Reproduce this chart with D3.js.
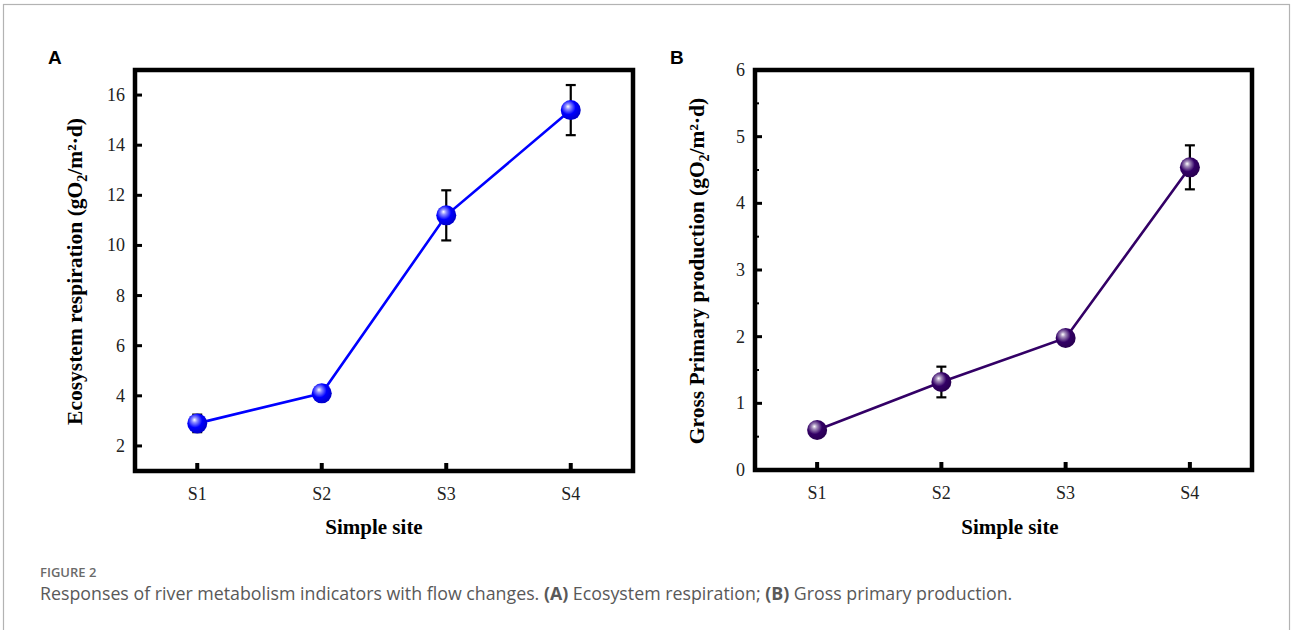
<!DOCTYPE html>
<html>
<head>
<meta charset="utf-8">
<script src="https://cdn.jsdelivr.net/npm/d3@7"></script>
<style>
  body { margin: 0; background: #fff; }
  svg { display: block; }
</style>
</head>
<body>
<svg id="fig" width="1293" height="630"></svg>
<script>
// site labels shared by both panels
var sites = ["S1", "S2", "S3", "S4"];

// panel A: ecosystem respiration
var erMean = [2.9, 4.1, 11.2, 15.4];
var erErr  = [0.35, 0.3, 1.0, 1.0];
var erTicks = [2, 4, 6, 8, 10, 12, 14, 16];

// panel B: gross primary production
var gppMean = [0.6, 1.32, 1.98, 4.54];
var gppErr  = [0.1, 0.23, 0.08, 0.33];
var gppTicks = [0, 1, 2, 3, 4, 5, 6];
var gppMinor = [0.5, 1.5, 2.5, 3.5, 4.5, 5.5];

var svg = d3.select("#fig");
var defs = svg.append("defs");

// outer figure frame
svg.append("rect")
    .attr("x", 3.5).attr("y", 4.5)
    .attr("width", 1286).attr("height", 700)
    .attr("fill", "none")
    .attr("stroke", "#b3b3b3")
    .attr("stroke-width", 1.2);

function ballGradient(id, color){
    var g = defs.append("radialGradient")
        .attr("id", id)
        .attr("cx", "40%").attr("cy", "38%")
        .attr("fx", "36%").attr("fy", "32%")
        .attr("r", "60%");
    g.append("stop").attr("offset", "0%").attr("stop-color", "#ffffff");
    g.append("stop").attr("offset", "22%").attr("stop-color", d3.interpolateRgb("#ffffff", color)(0.45));
    g.append("stop").attr("offset", "60%").attr("stop-color", color);
    g.append("stop").attr("offset", "100%").attr("stop-color", d3.color(color).darker(0.6));
}

/**
 * Draws one panel
 */
function drawPanel(opt){
    var g = svg.append("g");
    var x = d3.scaleLinear().domain([0.5, 4.5]).range([opt.left, opt.right]);
    var y = d3.scaleLinear().domain(opt.domain).range([opt.bottom, opt.top]);

    // panel letter
    g.append("text")
        .attr("x", opt.letterX).attr("y", 64)
        .attr("font-family", "Liberation Sans, Arial, sans-serif")
        .attr("font-weight", "bold")
        .attr("font-size", 19)
        .text(opt.letter);

    // y ticks (inward)
    g.selectAll(".ytick").data(opt.ticks).enter().append("line")
        .attr("x1", opt.left).attr("x2", opt.left + 7)
        .attr("y1", function(d){ return y(d); })
        .attr("y2", function(d){ return y(d); })
        .attr("stroke", "#000").attr("stroke-width", 3);

    g.selectAll(".yminor").data(opt.minor).enter().append("line")
        .attr("x1", opt.left).attr("x2", opt.left + 4)
        .attr("y1", function(d){ return y(d); })
        .attr("y2", function(d){ return y(d); })
        .attr("stroke", "#000").attr("stroke-width", 2);

    g.selectAll(".ylab").data(opt.ticks).enter().append("text")
        .attr("x", opt.left - 10)
        .attr("y", function(d){ return y(d) + 6; })
        .attr("text-anchor", "end")
        .attr("font-family", "Liberation Serif, Times New Roman, serif")
        .attr("font-size", 18)
        .attr("fill", "#222")
        .text(function(d){ return d; });

    // x ticks (inward)
    g.selectAll(".xtick").data(sites).enter().append("line")
        .attr("x1", function(d, i){ return x(i + 1); })
        .attr("x2", function(d, i){ return x(i + 1); })
        .attr("y1", opt.bottom).attr("y2", opt.bottom - 8)
        .attr("stroke", "#000").attr("stroke-width", 4);

    g.selectAll(".xlab").data(sites).enter().append("text")
        .attr("x", function(d, i){ return x(i + 1); })
        .attr("y", opt.bottom + 29)
        .attr("text-anchor", "middle")
        .attr("font-family", "Liberation Serif, Times New Roman, serif")
        .attr("font-size", 18)
        .attr("fill", "#222")
        .text(function(d){ return d; });

    // frame
    g.append("rect")
        .attr("x", opt.left).attr("y", opt.top)
        .attr("width", opt.right - opt.left)
        .attr("height", opt.bottom - opt.top)
        .attr("fill", "none")
        .attr("stroke", "#000").attr("stroke-width", 4.5);

    // axis titles
    g.append("text")
        .attr("x", opt.xtitleX)
        .attr("y", 534)
        .attr("text-anchor", "middle")
        .attr("font-family", "Liberation Serif, Times New Roman, serif")
        .attr("font-weight", "bold")
        .attr("font-size", 21)
        .text("Simple site");

    var yt = g.append("text")
        .attr("transform", "translate(" + opt.titleX + "," + ((opt.top + opt.bottom) / 2 + 1) + ") rotate(-90)")
        .attr("text-anchor", "middle")
        .attr("font-family", "Liberation Serif, Times New Roman, serif")
        .attr("font-weight", "bold")
        .attr("font-size", 21.5);
    yt.append("tspan").text(opt.title + " (gO");
    yt.append("tspan").attr("font-size", 14).attr("dy", 5).text("2");
    yt.append("tspan").attr("dy", -5).text("/m\u00B2\u00B7d)");

    // connecting line
    var line = d3.line()
        .x(function(d, i){ return x(i + 1); })
        .y(function(d){ return y(d); });
    g.append("path")
        .datum(opt.mean)
        .attr("d", line)
        .attr("fill", "none")
        .attr("stroke", opt.color)
        .attr("stroke-width", 2.6);

    // error bars
    var eb = g.selectAll(".err").data(opt.mean).enter().append("g");
    eb.append("line")
        .attr("x1", function(d, i){ return x(i + 1); })
        .attr("x2", function(d, i){ return x(i + 1); })
        .attr("y1", function(d, i){ return y(d - opt.err[i]); })
        .attr("y2", function(d, i){ return y(d + opt.err[i]); })
        .attr("stroke", "#000").attr("stroke-width", 2.2);
    [-1, 1].forEach(function(s){
        eb.append("line")
            .attr("x1", function(d, i){ return x(i + 1) - 5; })
            .attr("x2", function(d, i){ return x(i + 1) + 5; })
            .attr("y1", function(d, i){ return y(d + s * opt.err[i]); })
            .attr("y2", function(d, i){ return y(d + s * opt.err[i]); })
            .attr("stroke", "#000").attr("stroke-width", 2.2);
    });

    // ball markers
    ballGradient(opt.gid, opt.color);
    g.selectAll(".pt").data(opt.mean).enter().append("circle")
        .attr("cx", function(d, i){ return x(i + 1); })
        .attr("cy", function(d){ return y(d); })
        .attr("r", 10)
        .attr("fill", "url(#" + opt.gid + ")");
}

drawPanel({
    letter: "A", letterX: 48,
    left: 135, right: 633, top: 70, bottom: 471,
    domain: [1, 17], ticks: erTicks, minor: [],
    mean: erMean, err: erErr,
    color: "#0000ff", gid: "ballA",
    title: "Ecosystem respiration", titleX: 82, xtitleX: 374
});

drawPanel({
    letter: "B", letterX: 670,
    left: 755, right: 1252, top: 70, bottom: 470,
    domain: [0, 6], ticks: gppTicks, minor: gppMinor,
    mean: gppMean, err: gppErr,
    color: "#330066", gid: "ballB",
    title: "Gross Primary production", titleX: 704, xtitleX: 1010
});

// caption
svg.append("text")
    .attr("x", 40).attr("y", 577)
    .attr("font-family", "Open Sans, sans-serif")
    .attr("font-size", 13)
    .attr("font-weight", 600)
    .attr("fill", "#6a6a6a")
    .text("FIGURE 2");

var cap = svg.append("text")
    .attr("x", 40).attr("y", 600)
    .attr("font-family", "Open Sans, sans-serif")
    .attr("font-size", 17.8)
    .attr("fill", "#595959");
cap.append("tspan").text("Responses of river metabolism indicators with flow changes. ");
cap.append("tspan").attr("font-weight", "bold").text("(A)");
cap.append("tspan").text(" Ecosystem respiration; ");
cap.append("tspan").attr("font-weight", "bold").text("(B)");
cap.append("tspan").text(" Gross primary production.");
</script>
</body>
</html>
